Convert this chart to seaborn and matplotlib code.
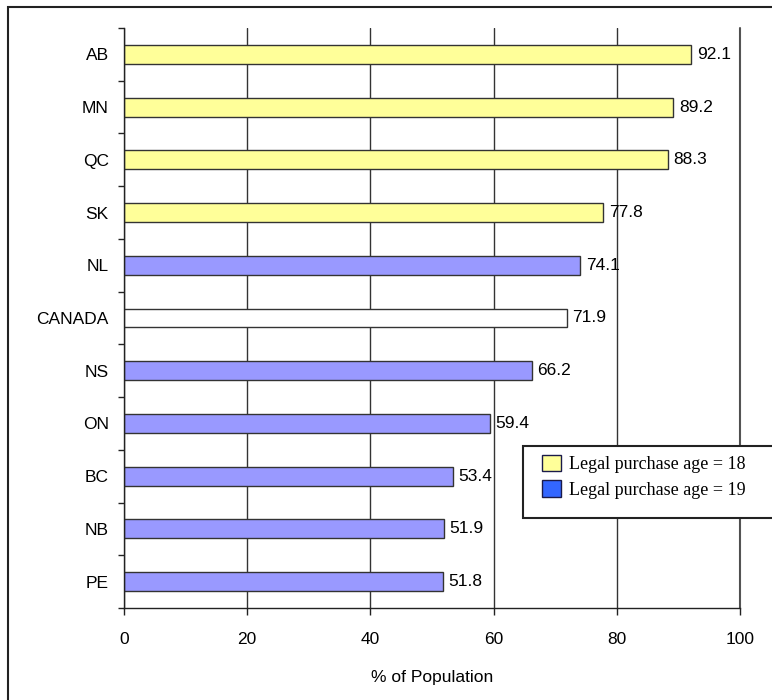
import numpy as np
import pandas as pd
import matplotlib
matplotlib.use("Agg")
import matplotlib.pyplot as plt
from matplotlib.patches import Rectangle, Patch
import seaborn as sns

# Share of population by province, ordered from highest to lowest
provinces = ["AB", "MN", "QC", "SK", "NL", "CANADA", "NS", "ON", "BC", "NB", "PE"]
percent = [92.1, 89.2, 88.3, 77.8, 74.1, 71.9, 66.2, 59.4, 53.4, 51.9, 51.8]
age_group = ["18", "18", "18", "18", "19", "all", "19", "19", "19", "19", "19"]

legend_labels = ["Legal purchase age = 18", "Legal purchase age = 19"]
x_ticks = [0, 20, 40, 60, 80, 100]
x_title = "% of Population"

bar_colors = {"18": "#FFFF99", "19": "#9999FF", "all": "#FFFFFF"}
legend_colors = ["#FFFF99", "#3366FF"]

sns.set_style("white")
plt.rcParams["font.family"] = ["Liberation Sans", "DejaVu Sans"]
plt.rcParams["text.color"] = "black"
plt.rcParams["xtick.color"] = "black"
plt.rcParams["ytick.color"] = "black"
plt.rcParams["axes.labelcolor"] = "black"

FS = 12.5

df = pd.DataFrame({"province": provinces, "percent": percent, "group": age_group})

W, H = 772, 700
fig = plt.figure(figsize=(W / 100, H / 100), dpi=100)
ax = fig.add_axes([124 / W, 1 - 608 / H, (740 - 124) / W, (608 - 28) / H])

sns.barplot(data=df, x="percent", y="province", hue="group", palette=bar_colors,
            dodge=False, width=0.36, edgecolor="#333333", linewidth=1.0,
            saturation=1, legend=False, ax=ax, orient="h")

ax.set_xlim(0, 100)
ax.set_ylim(len(provinces) - 0.5, -0.5)
ax.set_xticks(x_ticks)
ax.set_xticklabels([str(t) for t in x_ticks], fontsize=FS)
ax.set_yticks(range(len(provinces)))
ax.set_yticklabels(provinces, fontsize=FS)
ax.set_yticks(np.arange(-0.5, len(provinces)), minor=True)
ax.tick_params(axis="y", which="major", length=0, pad=11)
ax.tick_params(axis="y", which="minor", length=4.5, width=1, color="#222222", left=True)
ax.tick_params(axis="x", which="major", length=5, width=1, color="#222222",
               bottom=True, pad=12)
ax.set_xlabel(x_title, fontsize=FS, labelpad=17)
ax.set_ylabel("")

ax.grid(axis="x", color="#333333", linewidth=1.0)
ax.set_axisbelow(True)
# Gridline on the right edge of the axis range
ax.axvline(100, color="#555555", linewidth=1.5, clip_on=False, zorder=0.5)
for side in ["top", "right"]:
    ax.spines[side].set_visible(False)
for side in ["left", "bottom"]:
    ax.spines[side].set_color("#222222")
    ax.spines[side].set_linewidth(1.0)

# Value labels to the right of each bar
for bar_container in ax.containers:
    for rect in bar_container:
        w = rect.get_width()
        if np.isnan(w):
            continue
        y = rect.get_y() + rect.get_height() / 2
        ax.annotate(f"{w:.1f}", (w, y), xytext=(4, 0), textcoords="offset points",
                    va="center", ha="left", fontsize=FS)

# Outer frame around the figure
fig.patches.append(Rectangle((8 / W, -0.1), 1.2, 1 - 7 / H + 0.1,
                             transform=fig.transFigure, fill=False,
                             edgecolor="#222222", linewidth=1.5, zorder=0))

# Legend box
fig.patches.append(Rectangle((523 / W, 1 - 518 / H), 0.5, (518 - 446) / H,
                             transform=fig.transFigure, facecolor="white",
                             edgecolor="#222222", linewidth=1.5, zorder=5))
handles = [Patch(facecolor=c, edgecolor="#1a1a4a", linewidth=1.0) for c in legend_colors]
leg = fig.legend(handles, legend_labels, loc="upper left",
                 bbox_to_anchor=(538 / W, 1 - 451 / H), frameon=False,
                 prop={"family": ["Liberation Serif"], "size": 13},
                 handlelength=1.05, handleheight=1.05, handletextpad=0.45,
                 labelspacing=0.4, borderpad=0.2, borderaxespad=0)
leg.set_zorder(6)

fig.savefig("out.png", dpi=100)
